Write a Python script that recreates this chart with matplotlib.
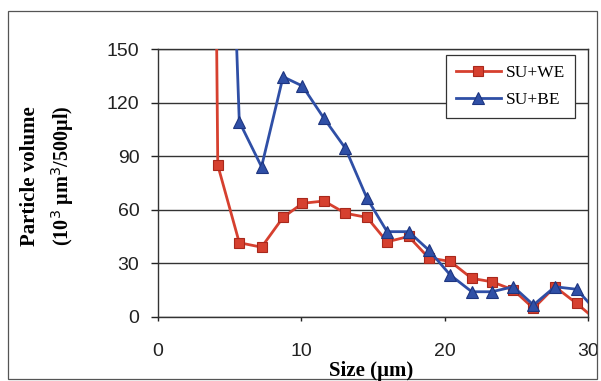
import matplotlib
matplotlib.use('Agg')
import numpy as np
import matplotlib.pyplot as plt
from matplotlib.patches import Rectangle

# particle size bins (um)
sizes = [2.7, 4.2, 5.7, 7.25, 8.75, 10.1, 11.6, 13.1, 14.6, 16.0,
         17.5, 18.9, 20.4, 21.9, 23.3, 24.8, 26.2, 27.7, 29.2, 30.6]
# particle volume (10^3 um^3 / 500 ul)
su_we = [1400, 85, 41.5, 39, 55.7, 63.6, 64.9, 58, 55.7, 42,
         45, 33, 31, 21.5, 19.6, 15, 4.7, 16.8, 7.5, -2]
su_be = [np.nan, 450, 109.4, 84.1, 134.6, 129.4, 111.3, 94.4, 66.4, 47.7,
         47.7, 37.4, 23.4, 14, 14, 16.8, 6.6, 16.8, 15.4, 3]

y_ticks = [0, 30, 60, 90, 120, 150]
x_ticks = [0, 10, 20, 30]

red = '#d6402f'
red_edge = '#a8281c'
blue = '#2f4fa6'
blue_edge = '#1d3580'

W, H = 601, 381
fig = plt.figure(figsize=(W / 100, H / 100), dpi=100)
fig.patch.set_facecolor('white')

# outer chart border
fig.patches.append(Rectangle((8 / W, 2 / H), 589 / W, 368 / H,
                             transform=fig.transFigure, fill=False,
                             edgecolor='#555555', linewidth=0.9))

ax = fig.add_axes([157.5 / W, 1 - 316.7 / H, 430.5 / W, 267.4 / H])

ax.plot(sizes, su_we, color=red, linewidth=2, marker='s', markersize=7,
        markerfacecolor=red, markeredgecolor=red_edge, markeredgewidth=0.8,
        label='SU+WE', zorder=3)
ax.plot(sizes, su_be, color=blue, linewidth=2, marker='^', markersize=9,
        markerfacecolor=blue, markeredgecolor=blue_edge, markeredgewidth=0.8,
        label='SU+BE', zorder=4)

ax.set_xlim(0, 30)
ax.set_ylim(0, 150)
ax.set_xticks(x_ticks)
ax.set_yticks(y_ticks)
ax.grid(axis='y', color='#333333', linewidth=1)
ax.set_axisbelow(True)
for s in ax.spines.values():
    s.set_color('#333333')
    s.set_linewidth(1)

ax.tick_params(axis='y', direction='out', length=5, width=1, pad=8,
               labelsize=14, colors='#222222')
ax.tick_params(axis='x', direction='out', length=3, width=1, pad=16,
               labelsize=14, colors='#222222')
for lab in ax.get_xticklabels() + ax.get_yticklabels():
    lab.set_family('Liberation Sans')

fig.text(371 / W, 1 - 371 / H, 'Size (\u00b5m)', ha='center', va='center',
         family='Liberation Serif', fontweight='bold', fontsize=15)
fig.text(30 / W, 1 - 176 / H, 'Particle volume', ha='center', va='center',
         rotation=90, family='Liberation Serif', fontweight='bold', fontsize=15)
fig.text(63 / W, 1 - 176 / H, '(10$^3$ \u00b5m$^3$/500\u00b5l)', ha='center',
         va='center', rotation=90, family='Liberation Serif',
         fontweight='bold', fontsize=14.5)

leg = ax.legend(loc='upper right', bbox_to_anchor=(575 / W, 1 - 55 / H),
                bbox_transform=fig.transFigure, borderaxespad=0,
                fancybox=False, edgecolor='#333333', framealpha=1,
                handlelength=2.6, handletextpad=0.3, borderpad=0.55,
                labelspacing=0.65, prop={'family': 'Liberation Serif', 'size': 12.5})
leg.get_frame().set_linewidth(0.9)

fig.savefig('out.png', dpi=100)
